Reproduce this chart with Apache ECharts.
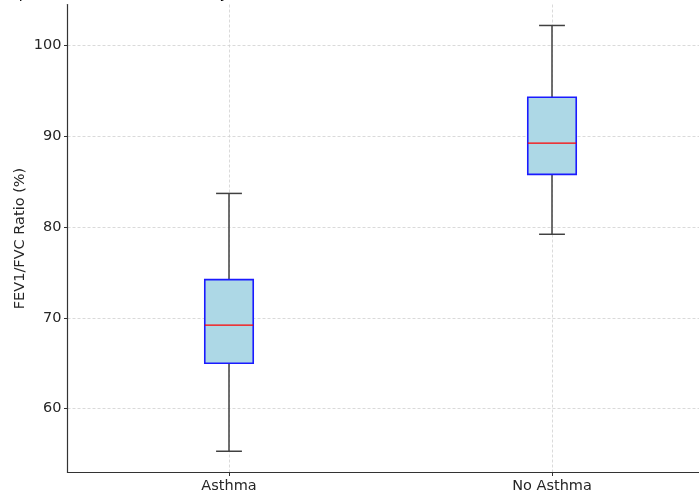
<!DOCTYPE html>
<html>
<head>
<meta charset="utf-8">
<script src="https://cdn.jsdelivr.net/npm/echarts@6/dist/echarts.min.js"></script>
<style>
html,body{margin:0;padding:0;background:#fff;}
#chart{width:699px;height:493px;}
</style>
</head>
<body>
<div id="chart"></div>
<script>
const titleText = 'Comparison of FEV1/FVC Ratio by Asthma Status';
const yAxisName = 'FEV1/FVC Ratio (%)';
const categories = ['Asthma', 'No Asthma'];
const lowerWhisker = [55.3, 79.2];
const q1 = [65.0, 85.8];
const median = [69.2, 89.25];
const q3 = [74.2, 94.3];
const upperWhisker = [83.7, 102.2];
const yTicks = [60, 70, 80, 90, 100];
const xTicks = [1, 2];

const data = categories.map((c, i) => [i + 1, lowerWhisker[i], q1[i], median[i], q3[i], upperWhisker[i]]);

const font = 'DejaVu Sans';
const chart = echarts.init(document.getElementById('chart'), null, {renderer: 'canvas'});

function renderItem(params, api) {
  const x = api.value(0);
  const pLow = api.coord([x, api.value(1)]);
  const pQ1 = api.coord([x, api.value(2)]);
  const pMed = api.coord([x, api.value(3)]);
  const pQ3 = api.coord([x, api.value(4)]);
  const pHigh = api.coord([x, api.value(5)]);
  const boxW = api.size([0.15, 0])[0];
  const capW = api.size([0.08, 0])[0];
  const cx = pMed[0];
  const wStyle = {stroke: '#404040', lineWidth: 1.5};
  return {
    type: 'group',
    children: [
      {type: 'line', shape: {x1: cx, y1: pLow[1], x2: cx, y2: pQ1[1]}, style: wStyle},
      {type: 'line', shape: {x1: cx, y1: pQ3[1], x2: cx, y2: pHigh[1]}, style: wStyle},
      {type: 'line', shape: {x1: cx - capW / 2, y1: pLow[1], x2: cx + capW / 2, y2: pLow[1]}, style: wStyle},
      {type: 'line', shape: {x1: cx - capW / 2, y1: pHigh[1], x2: cx + capW / 2, y2: pHigh[1]}, style: wStyle},
      {type: 'rect', shape: {x: cx - boxW / 2, y: pQ3[1], width: boxW, height: pQ1[1] - pQ3[1]},
        style: {fill: '#add8e6', stroke: '#1a1aff', lineWidth: 1.6}},
      {type: 'line', shape: {x1: cx - boxW / 2, y1: pMed[1], x2: cx + boxW / 2, y2: pMed[1]},
        style: {stroke: '#ff0000', lineWidth: 1.2}}
    ]
  };
}

const option = {
  animation: false,
  backgroundColor: '#fff',
  graphic: [{
    type: 'text', left: -14, top: -13,
    style: {text: titleText, font: '14.4px "DejaVu Sans"', fill: '#000'}
  }],
  grid: {left: 67.5, width: 646, top: 4.5, bottom: 20.5, containLabel: false, outerBoundsMode: 'none'},
  xAxis: {
    type: 'value', min: 0.5, max: 2.5,
    axisLine: {show: true, lineStyle: {color: '#333', width: 1.2}},
    axisTick: {show: true, length: 3.5, customValues: xTicks, lineStyle: {color: '#333'}},
    axisLabel: {
      customValues: xTicks, margin: 6,
      formatter: v => categories[Math.round(v) - 1] || '',
      fontFamily: font, fontSize: 14.5, color: '#262626'
    },
    splitLine: {show: true, customValues: xTicks, lineStyle: {color: '#d0d0d0', type: [3, 2], width: 0.8}}
  },
  yAxis: {
    type: 'value', min: 52.96, max: 104.51,
    name: yAxisName, nameLocation: 'middle', nameGap: 39.5, nameMoveOverlap: false,
    nameTextStyle: {fontFamily: font, fontSize: 14.5, color: '#262626'},
    axisLine: {show: true, lineStyle: {color: '#333', width: 1.2}},
    axisTick: {show: true, length: 3.5, customValues: yTicks, lineStyle: {color: '#333'}},
    axisLabel: {customValues: yTicks, margin: 6, fontFamily: font, fontSize: 14.5, color: '#262626'},
    splitLine: {show: true, customValues: yTicks, lineStyle: {color: '#d0d0d0', type: [3, 2], width: 0.8}}
  },
  series: [{
    type: 'custom',
    renderItem: renderItem,
    encode: {x: 0, y: [1, 2, 3, 4, 5]},
    data: data,
    clip: false
  }]
};
chart.setOption(option);
</script>
</body>
</html>
